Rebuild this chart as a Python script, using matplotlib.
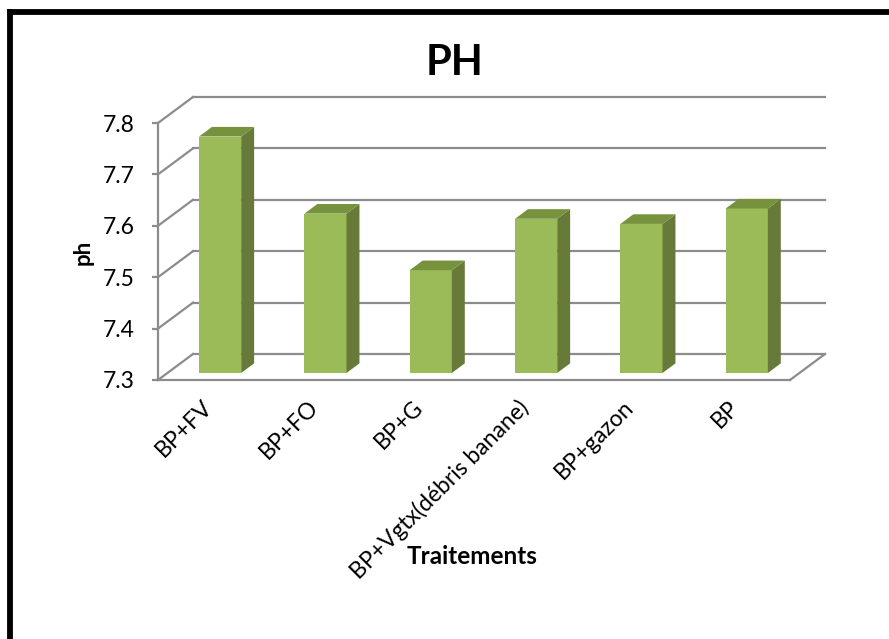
import matplotlib
matplotlib.use("Agg")
import matplotlib.pyplot as plt
from matplotlib.patches import Polygon, Rectangle
from matplotlib.lines import Line2D
import matplotlib.transforms as mtransforms
import numpy as np

categories = ["BP+FV", "BP+FO", "BP+G", "BP+Vgtx(débris banane)", "BP+gazon", "BP"]
ph_values = [7.76, 7.61, 7.50, 7.60, 7.59, 7.62]
y_ticks = [7.3, 7.4, 7.5, 7.6, 7.7, 7.8]

FRONT = "#9BBB59"
SIDE = "#677A39"
TOP = "#77923D"
GRID = "#8C8C8C"

plt.rcParams["font.family"] = ["Lato", "DejaVu Sans"]

W, H = 889, 639
fig = plt.figure(figsize=(W / 100, H / 100), dpi=100)

# front plane of the 3-D box, in pixels
x0_px, x1_px = 158, 790
ybot_px, ytop_px = 380, 123
ax = fig.add_axes([x0_px / W, 1 - ybot_px / H, (x1_px - x0_px) / W, (ybot_px - ytop_px) / H])
ymin, ymax = y_ticks[0], y_ticks[-1]
n = len(categories)
ax.set_xlim(0, n)
ax.set_ylim(ymin, ymax)

# depth of the box, converted from pixels to data units
dx = 35 * n / (x1_px - x0_px)
dy = 26 * (ymax - ymin) / (ybot_px - ytop_px)

lw = 1.6
# back wall gridlines and left wall diagonals
for v in y_ticks:
    ax.add_line(Line2D([dx, n + dx], [v + dy, v + dy], color=GRID, lw=lw, clip_on=False, zorder=1))
    ax.add_line(Line2D([0, dx], [v, v + dy], color=GRID, lw=lw, clip_on=False, zorder=1))
# floor right edge
ax.add_line(Line2D([n, n + dx], [ymin, ymin + dy], color=GRID, lw=lw, clip_on=False, zorder=1))

# 3-D columns
f0, f1 = 0.27, 0.64
bw = 0.4
for i, v in enumerate(ph_values):
    xl = i + 0.5 - bw / 2 + f0 * dx
    xr = xl + bw
    b = ymin + f0 * dy
    t = v + f0 * dy
    ox, oy = (f1 - f0) * dx, (f1 - f0) * dy
    ax.add_patch(Rectangle((xl, b), bw, t - b, facecolor=FRONT, edgecolor="none",
                           clip_on=False, zorder=3))
    ax.add_patch(Polygon([(xr, b), (xr + ox, b + oy), (xr + ox, t + oy), (xr, t)],
                         closed=True, facecolor=SIDE, edgecolor="none", clip_on=False, zorder=3))
    ax.add_patch(Polygon([(xl, t), (xr, t), (xr + ox, t + oy), (xl + ox, t + oy)],
                         closed=True, facecolor=TOP, edgecolor="none", clip_on=False, zorder=3))

for s in ["top", "right"]:
    ax.spines[s].set_visible(False)
for s in ["left", "bottom"]:
    ax.spines[s].set_color(GRID)
    ax.spines[s].set_linewidth(lw)
ax.set_facecolor("none")

ax.set_yticks(y_ticks)
ax.set_yticklabels([f"{v:.1f}" for v in y_ticks], fontsize=16.5)
ax.tick_params(axis="y", direction="out", length=4.5, width=lw, color=GRID, pad=12)
ax.set_xticks(np.arange(n) + 0.5)
ax.set_xticklabels(categories, rotation=45, ha="right", va="top", fontsize=16.5)
ax.tick_params(axis="x", length=0, pad=12)
# nudge the slanted category labels a little to the right
shift = mtransforms.ScaledTranslation(6 / 100, 0, fig.dpi_scale_trans)
for lbl in ax.get_xticklabels():
    lbl.set_transform(lbl.get_transform() + shift)

fig.text(455 / W, 1 - 63 / H, "PH", fontsize=30, fontweight="bold", ha="center", va="center")
fig.text(83 / W, 1 - 252 / H, "ph", fontsize=16, fontweight="bold", rotation=90,
         ha="center", va="center")
fig.text(472 / W, 1 - 557 / H, "Traitements", fontsize=17.5, fontweight="bold",
         ha="center", va="center", zorder=5)

# chart frame (only the left and top edges fall inside the image)
fig.add_artist(Line2D([10 / W, 10 / W], [0, 1 - 11.5 / H], color="black", lw=4.2,
                      transform=fig.transFigure, solid_capstyle="projecting"))
fig.add_artist(Line2D([10 / W, 1.01], [1 - 11.5 / H, 1 - 11.5 / H], color="black", lw=4.2,
                      transform=fig.transFigure, solid_capstyle="projecting"))

fig.savefig("out.png", dpi=100)
